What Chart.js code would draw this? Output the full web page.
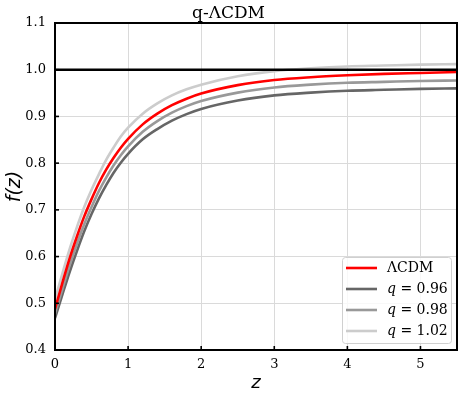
<!DOCTYPE html>
<html>
<head>
<meta charset="utf-8">
<script src="https://cdn.jsdelivr.net/npm/chart.js@4"></script>
<style>
  html, body { margin: 0; padding: 0; background: #fff; }
  #wrap { width: 463px; height: 397px; position: relative; }
</style>
</head>
<body>
<div id="wrap"><canvas id="growthChart"></canvas></div>
<script>
// values
const zValues = [0, 0.1, 0.2, 0.3, 0.4, 0.5, 0.6, 0.7, 0.8, 0.9, 1.0, 1.2, 1.4, 1.6, 1.8, 2.0, 2.5, 3.0, 3.5, 4.0, 4.5, 5.0, 5.5];
const fLCDM = [0.488, 0.543, 0.596, 0.643, 0.686, 0.723, 0.757, 0.786, 0.811, 0.833, 0.852, 0.883, 0.906, 0.924, 0.938, 0.949, 0.967, 0.978, 0.984, 0.988, 0.991, 0.993, 0.995];
const fQ096 = [0.468, 0.518, 0.567, 0.612, 0.654, 0.691, 0.724, 0.753, 0.779, 0.801, 0.820, 0.851, 0.873, 0.891, 0.905, 0.916, 0.934, 0.945, 0.951, 0.955, 0.957, 0.959, 0.960];
const fQ098 = [0.478, 0.530, 0.581, 0.627, 0.669, 0.706, 0.740, 0.769, 0.795, 0.817, 0.836, 0.867, 0.890, 0.908, 0.922, 0.933, 0.951, 0.962, 0.968, 0.972, 0.974, 0.976, 0.977];
const fQ102 = [0.508, 0.563, 0.616, 0.663, 0.706, 0.743, 0.776, 0.807, 0.833, 0.857, 0.876, 0.906, 0.928, 0.945, 0.958, 0.968, 0.986, 0.997, 1.003, 1.007, 1.009, 1.011, 1.012];
const refLine = [1.0, 1.0];
const refZ = [0, 5.5];
const seriesLabels = ['ΛCDM', 'q = 0.96', 'q = 0.98', 'q = 1.02'];
const xTicks = [0, 1, 2, 3, 4, 5];
const yTicks = [0.4, 0.5, 0.6, 0.7, 0.8, 0.9, 1.0, 1.1];

const SERIF = "'DejaVu Serif', serif";
const SANS = "'DejaVu Sans', sans-serif";

function toPoints(xs, ys) {
  return xs.map((x, i) => ({ x: x, y: ys[i] }));
}

function curve(label, values, color) {
  return {
    label: label,
    data: toPoints(zValues, values),
    borderColor: color,
    backgroundColor: color,
    borderWidth: 2.6,
    pointRadius: 0,
    cubicInterpolationMode: 'monotone',
    fill: false,
  };
}

// black frame + inward ticks like matplotlib
const frameTicks = {
  id: 'frameTicks',
  afterDatasetsDraw(chart) {
    const { ctx, chartArea: a, scales } = chart;
    ctx.save();
    ctx.strokeStyle = '#000';
    ctx.lineWidth = 1.6;
    xTicks.forEach(v => {
      const px = scales.x.getPixelForValue(v);
      ctx.beginPath();
      ctx.moveTo(px, a.bottom);
      ctx.lineTo(px, a.bottom - 4);
      ctx.stroke();
    });
    yTicks.forEach(v => {
      const py = scales.y.getPixelForValue(v);
      ctx.beginPath();
      ctx.moveTo(a.left, py);
      ctx.lineTo(a.left + 4, py);
      ctx.stroke();
    });
    ctx.lineWidth = 2;
    ctx.strokeRect(a.left, a.top, a.right - a.left, a.bottom - a.top);
    ctx.restore();
  },
};

// legend box in lower right corner
const boxLegend = {
  id: 'boxLegend',
  afterDraw(chart) {
    const { ctx, chartArea: a } = chart;
    const items = seriesLabels.map(l => chart.data.datasets.find(d => d.label === l));
    const w = 109, h = 86;
    const x0 = a.right - 6 - w, y0 = a.bottom - 7 - h;
    ctx.save();
    ctx.fillStyle = 'rgba(255,255,255,0.8)';
    ctx.strokeStyle = '#d0d0d0';
    ctx.lineWidth = 1;
    ctx.beginPath();
    ctx.roundRect(x0 + 0.5, y0 + 0.5, w, h, 3);
    ctx.fill();
    ctx.stroke();
    items.forEach((d, i) => {
      const y = y0 + 11 + i * 21;
      ctx.strokeStyle = d.borderColor;
      ctx.lineWidth = 2.6;
      ctx.beginPath();
      ctx.moveTo(x0 + 4, y);
      ctx.lineTo(x0 + 35, y);
      ctx.stroke();
      ctx.fillStyle = '#000';
      ctx.textBaseline = 'middle';
      let tx = x0 + 45;
      let text = d.label;
      if (text.startsWith('q ')) {
        ctx.font = 'italic 14px ' + SERIF;
        ctx.fillText('q', tx, y);
        tx += ctx.measureText('q').width;
        text = text.slice(1);
      }
      ctx.font = '14px ' + SERIF;
      ctx.fillText(text, tx, y);
    });
    ctx.restore();
  },
};

const ctx = document.getElementById('growthChart').getContext('2d');
new Chart(ctx, {
  type: 'line',
  data: {
    datasets: [
      {
        label: 'ref',
        data: toPoints(refZ, refLine),
        borderColor: '#000',
        borderWidth: 2.4,
        pointRadius: 0,
        fill: false,
      },
      curve(seriesLabels[0], fLCDM, '#ff0000'),
      curve(seriesLabels[3], fQ102, '#cccccc'),
      curve(seriesLabels[2], fQ098, '#999999'),
      curve(seriesLabels[1], fQ096, '#666666'),
    ],
  },
  options: {
    responsive: true,
    maintainAspectRatio: false,
    animation: false,
    layout: { padding: { left: 0, right: 6, top: 0, bottom: 0 } },
    plugins: {
      legend: { display: false },
      tooltip: { enabled: false },
      title: {
        display: true,
        text: 'q-ΛCDM',
        color: '#000',
        font: { family: SERIF, size: 17, weight: 'normal', lineHeight: 1.0 },
        padding: { top: 5, bottom: 1 },
      },
    },
    scales: {
      x: {
        type: 'linear',
        min: 0,
        max: 5.5,
        afterBuildTicks: s => { s.ticks = xTicks.map(v => ({ value: v })); },
        afterFit: s => { s.height = 47; },
        grid: { color: '#dadada', lineWidth: 1, drawTicks: false },
        border: { display: false },
        ticks: {
          color: '#000',
          padding: 7,
          maxRotation: 0,
          font: { family: SERIF, size: 13 },
          callback: v => String(v),
        },
        title: {
          display: true,
          text: 'z',
          color: '#000',
          font: { family: SANS, size: 18, style: 'italic' },
          padding: { top: 0, bottom: 3 },
        },
      },
      y: {
        type: 'linear',
        min: 0.4,
        max: 1.1,
        afterBuildTicks: s => { s.ticks = yTicks.map(v => ({ value: v })); },
        afterFit: s => { s.width = 55; },
        grid: { color: '#dadada', lineWidth: 1, drawTicks: false },
        border: { display: false },
        ticks: {
          color: '#000',
          padding: 9,
          font: { family: SERIF, size: 13 },
          callback: v => Number(v).toFixed(1),
        },
        title: {
          display: true,
          text: 'f(z)',
          color: '#000',
          font: { family: SANS, size: 19, style: 'italic' },
          padding: { top: 4, bottom: 0 },
        },
      },
    },
  },
  plugins: [frameTicks, boxLegend],
});
</script>
</body>
</html>
